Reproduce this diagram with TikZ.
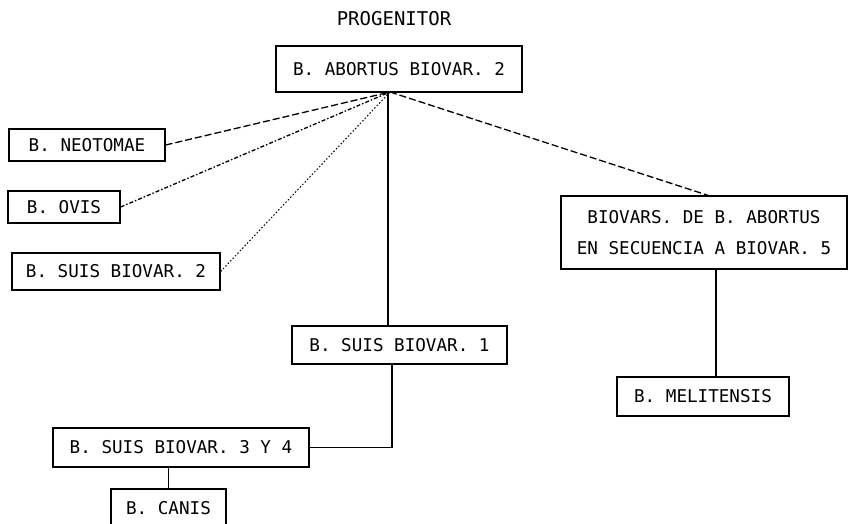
\documentclass[tikz,border=0pt]{standalone}
\usepackage{fontspec}
\setmonofont{DejaVu Sans Mono}
\usetikzlibrary{calc}
\tikzset{
  caja/.style={draw, line width=1.3pt, inner sep=0pt, minimum height=#1,
    font=\ttfamily\fontsize{17.6pt}{31pt}\selectfont},
  caja/.default=37,
  rayas/.style={line width=1.3pt, dash pattern=on 7pt off 3pt},
  rayitas/.style={line width=1.3pt, dash pattern=on 4pt off 2pt on 1.5pt off 2pt},
  puntos/.style={line width=1pt, dash pattern=on 1.5pt off 2pt},
  linea/.style={line width=1.3pt}
}

\begin{document}
\begin{tikzpicture}[x=1pt, y=-1pt]
			%%%%% START %%%%%
			\useasboundingbox (0, 0) rectangle (848, 524);
			
			\node[font=\ttfamily\fontsize{19pt}{20pt}\selectfont] (prog) at (394, 19) {PROGENITOR};
			\node[caja=46, minimum width=246] (abortus) at (399, 69) {B. ABORTUS BIOVAR. 2};
			\coordinate (hub) at (390, 92);
			
			\node[caja=32, minimum width=156] (neotomae) at (87, 145) {B. NEOTOMAE};
			\node[caja=32, minimum width=112] (ovis) at (64, 207) {B. OVIS};
			\node[caja, minimum width=208] (suis2) at (116, 271.5) {B. SUIS BIOVAR. 2};
			
			\node[caja=73, minimum width=286, align=center] (biovars) at (704, 232.5)
			  {BIOVARS. DE B. ABORTUS\\EN SECUENCIA A BIOVAR. 5};
			\node[caja=39, minimum width=172] (melit) at (703, 396.5) {B. MELITENSIS};
			
			\node[caja=38, minimum width=215] (suis1) at (399.5, 345) {B. SUIS BIOVAR. 1};
			\node[caja=39, minimum width=256] (suis34) at (181, 447.5) {B. SUIS BIOVAR. 3 Y 4};
			\node[caja=38, minimum width=115] (canis) at (168.5, 508) {B. CANIS};
			
			% lineas desde el progenitor
			\draw[rayas] (neotomae.east) -- (hub);
			\draw[rayitas] (ovis.east) -- (hub);
			\draw[puntos] (suis2.east) -- (hub);
			\draw[rayas] (hub) -- ([xshift=4]biovars.north);
			\draw[linea] ([xshift=-2]hub) -- ([xshift=-2]hub |- suis1.north);
			
			\draw[linea] ([xshift=-7.5]suis1.south) |- (suis34.east);
			\draw[linea] (canis.north |- suis34.south) -- (canis.north);
			\draw[linea] ([xshift=12]biovars.south) -- ([xshift=12]biovars.south |- melit.north);
			%%%%% END %%%%%
\end{tikzpicture}
\end{document}
